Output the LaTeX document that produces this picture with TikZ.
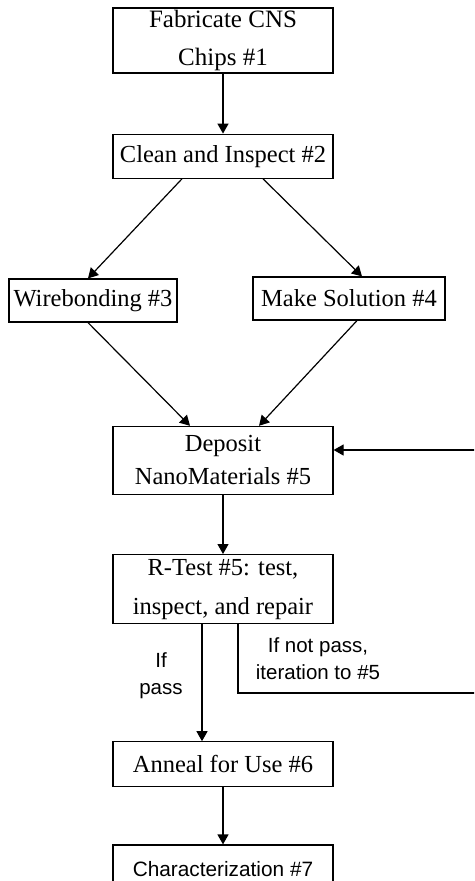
\documentclass[tikz,border=0pt]{standalone}
\usepackage{fontspec}
\setmainfont{Liberation Serif}
\setsansfont{Liberation Sans}
\usetikzlibrary{positioning}
\usetikzlibrary{arrows.meta}
\tikzstyle{process} = [draw, line width=1.2pt, inner sep=0pt, align=center, minimum width=220pt, font=\fontsize{24.5}{37}\selectfont]
\tikzstyle{flow} = [-{Triangle[length=10pt, width=11pt]}, line width=1.2pt]
\tikzstyle{remark} = [align=center, font=\sffamily\fontsize{20.5}{27}\selectfont]

\begin{document}
\begin{tikzpicture}[x=1pt, y=-1pt]
		\useasboundingbox (0,0) rectangle (474,881);
		\clip (0,0) rectangle (474,881);
		
		%
		% Main chain
		\node [process, minimum height=65pt, font=\fontsize{25}{38}\selectfont] at (223,40.5) (fab) {Fabricate CNS\\Chips \#1};
		\node [process, minimum height=44pt, below=60pt of fab] (clean) {Clean and Inspect \#2};
		
		% Two parallel branches
		\node [process, minimum width=168pt, minimum height=43pt] at (93,300.5) (wire) {Wirebonding \#3};
		\node [process, minimum width=192pt, minimum height=43pt] at (349,298.5) (sol) {Make Solution \#4};
		
		\node [process, minimum height=68pt, below=247pt of clean, font=\fontsize{24.5}{33}\selectfont] (dep) {Deposit\\NanoMaterials \#5};
		\node [process, minimum height=69pt, below=59pt of dep, font=\fontsize{24.5}{39}\selectfont] (rtest) {R-Test \#5: test,\\inspect, and repair};
		\node [process, minimum height=45pt, below=117pt of rtest] (anneal) {Anneal for Use \#6};
		\node [process, minimum height=49pt, below=57pt of anneal, font=\sffamily\fontsize{20.8}{25}\selectfont] (char) {Characterization \#7};
		
		\draw [flow] (fab) -- (clean);
		\draw [flow] ([xshift=-41pt]clean.south) -- ([xshift=-5pt]wire.north);
		\draw [flow] ([xshift=40pt]clean.south) -- ([xshift=13pt]sol.north);
		\draw [flow] ([xshift=-5pt]wire.south) -- ([xshift=-33pt]dep.north);
		\draw [flow] ([xshift=8pt]sol.south) -- ([xshift=36pt]dep.north);
		\draw [flow] (dep) -- (rtest);
		\draw [flow] ([xshift=-21pt]rtest.south) -- ([xshift=-21pt]anneal.north);
		\draw [flow] (anneal) -- (char);
		
		%
		% Repeat loop back to the deposit step
		\coordinate (loop_bottom) at (490,693);
		\coordinate (loop_top) at (490,450);
		\draw [flow] ([xshift=15pt]rtest.south) |- (loop_bottom) -- (loop_top) -- (loop_top -| dep.east);
		
		\node [remark] at (161,676) (pass_label) {If\\pass};
		\node [remark] at (318,659) (fail_label) {If not pass,\\iteration to \#5};
	
	\end{tikzpicture}
\end{document}
